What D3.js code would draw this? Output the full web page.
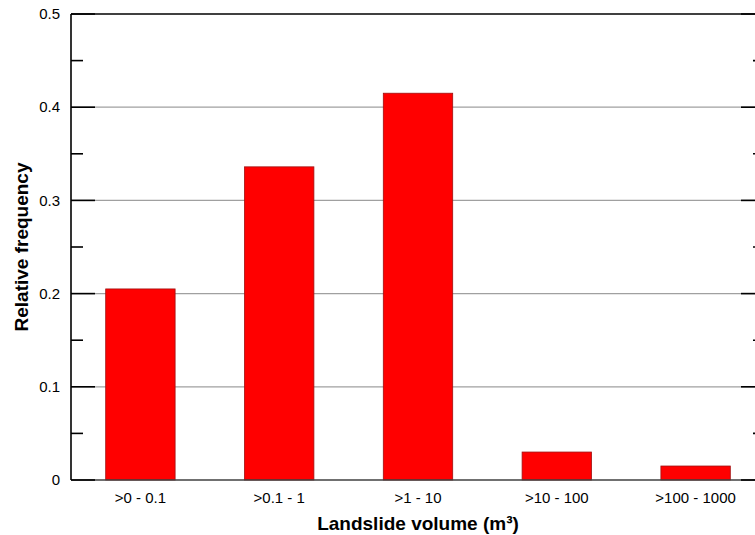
<!DOCTYPE html>
<html>
<head>
<meta charset="utf-8">
<script src="https://cdn.jsdelivr.net/npm/d3@7"></script>
<style>
  html, body { margin: 0; padding: 0; background: #fff; }
  svg { display: block; font-family: "Liberation Sans", Arial, sans-serif; }
</style>
</head>
<body>
<svg id="chart" width="755" height="535"></svg>
<script>
// Landslide volume classes and their relative frequencies
const categories = [">0 - 0.1", ">0.1 - 1", ">1 - 10", ">10 - 100", ">100 - 1000"];
const frequencies = [0.205, 0.336, 0.415, 0.030, 0.015];
const yTicks = [0, 0.1, 0.2, 0.3, 0.4, 0.5];
const yMinorTicks = [0.05, 0.15, 0.25, 0.35, 0.45];
const yTickLabels = ["0", "0.1", "0.2", "0.3", "0.4", "0.5"];

const svg = d3.select("#chart");
const plotLeft = 71, plotRight = 765, plotTop = 14, plotBottom = 480;

const x = d3.scaleBand().domain(categories).range([plotLeft, plotRight]).paddingInner(0.5).paddingOuter(0.25);
const y = d3.scaleLinear().domain([0, 0.5]).range([plotBottom, plotTop]);

// horizontal gridlines
svg.append("g").selectAll("line")
  .data(yTicks.filter(t => t > 0 && t < 0.5))
  .join("line")
  .attr("x1", plotLeft).attr("x2", plotRight)
  .attr("y1", d => y(d)).attr("y2", d => y(d))
  .attr("stroke", "#a0a0a0").attr("stroke-width", 1.2);

// bars
svg.append("g").selectAll("rect")
  .data(categories.map((c, i) => ({ c, v: frequencies[i] })))
  .join("rect")
  .attr("x", d => x(d.c))
  .attr("width", x.bandwidth())
  .attr("y", d => y(d.v))
  .attr("height", d => y(0) - y(d.v))
  .attr("fill", "#ff0000")
  .attr("stroke", "#a01010")
  .attr("stroke-width", 0.8);

// frame: baseline, top edge, left and right axes
svg.append("line").attr("x1", plotLeft).attr("x2", plotRight).attr("y1", plotBottom).attr("y2", plotBottom)
  .attr("stroke", "#404040").attr("stroke-width", 1.5);
svg.append("line").attr("x1", plotLeft).attr("x2", plotRight).attr("y1", plotTop).attr("y2", plotTop)
  .attr("stroke", "#000").attr("stroke-width", 1.6);
svg.append("line").attr("x1", plotLeft).attr("x2", plotLeft).attr("y1", plotTop).attr("y2", plotBottom)
  .attr("stroke", "#000").attr("stroke-width", 1.6);
svg.append("line").attr("x1", plotRight).attr("x2", plotRight).attr("y1", plotTop).attr("y2", plotBottom)
  .attr("stroke", "#000").attr("stroke-width", 1.6);

// inward ticks on both sides
const ticks = svg.append("g").attr("stroke", "#000").attr("stroke-width", 1.6);
[[plotLeft, 1], [plotRight, -1]].forEach(([x0, dir]) => {
  ticks.append("g").selectAll("line").data(yTicks).join("line")
    .attr("x1", x0).attr("x2", x0 + dir * 24)
    .attr("y1", d => y(d)).attr("y2", d => y(d));
  ticks.append("g").selectAll("line").data(yMinorTicks).join("line")
    .attr("x1", x0).attr("x2", x0 + dir * 12)
    .attr("y1", d => y(d)).attr("y2", d => y(d));
});

// y tick labels
svg.append("g").selectAll("text").data(yTicks).join("text")
  .attr("x", plotLeft - 11).attr("y", d => y(d))
  .attr("dy", "0.35em")
  .attr("text-anchor", "end")
  .attr("font-size", 15)
  .text((d, i) => yTickLabels[i]);

// x tick labels
svg.append("g").selectAll("text").data(categories).join("text")
  .attr("x", d => x(d) + x.bandwidth() / 2).attr("y", plotBottom + 23)
  .attr("text-anchor", "middle")
  .attr("font-size", 15)
  .text(d => d);

// axis titles
svg.append("text")
  .attr("x", (plotLeft + plotRight) / 2).attr("y", 530)
  .attr("text-anchor", "middle")
  .attr("font-size", 19).attr("font-weight", "bold")
  .text("Landslide volume (m³)");

svg.append("text")
  .attr("transform", `translate(28, ${(plotTop + plotBottom) / 2}) rotate(-90)`)
  .attr("text-anchor", "middle")
  .attr("font-size", 19).attr("font-weight", "bold")
  .text("Relative frequency");
</script>
</body>
</html>
